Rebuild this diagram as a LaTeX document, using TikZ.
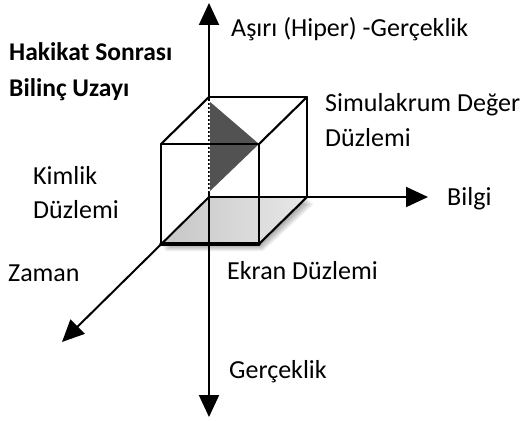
\documentclass[tikz,border=0pt]{standalone}
\usepackage{fontspec}
\setmainfont{Carlito}
\usetikzlibrary{arrows.meta,calc}
\begin{document}
\begin{tikzpicture}[x=1pt,y=-1pt,
  axis/.style={line width=2pt,-{Triangle[length=22pt,width=20pt]}},
  edge/.style={line width=2.1pt,line cap=round,line join=round},
  lbl/.style={anchor=base west,inner sep=0pt,font=\fontsize{26}{30}\selectfont},
  blbl/.style={lbl,font=\fontsize{25.5}{30}\selectfont\bfseries}]
\useasboundingbox (0,0) rectangle (529,420);
% cube corners: back face b*, front face f*
\coordinate (O)   at (209,197);
\coordinate (btl) at (209,97);
\coordinate (btr) at (307,97);
\coordinate (bbr) at (307,197);
\coordinate (ftl) at (161,144);
\coordinate (ftr) at (259,144);
\coordinate (fbl) at (161,244);
\coordinate (fbr) at (259,244);
\coordinate (top) at (209,3);
\coordinate (bot) at (209,417);
\coordinate (bilgi) at (428,197);
\coordinate (zaman) at (62,342);
\coordinate (t1) at (209,101);
\coordinate (t2) at (259,144);
\coordinate (t3) at (209,192);
% soft shadow under the floor
\foreach \k in {1,...,7}{
  \fill[black,opacity=0.06] ($(O)+(\k,\k)$) -- ($(bbr)+(\k,\k)$) -- ($(fbr)+(0.6*\k,\k)$) -- ($(fbl)+(0.6*\k,\k)$) -- cycle;
}
% shaded floor
\shade[left color=gray!45,right color=gray!18] (O) -- (bbr) -- (fbr) -- (fbl) -- cycle;
% axes
\draw[axis] (O) -- (top);
\draw[axis] (O) -- (bot);
\draw[axis] (O) -- (bilgi);
\draw[axis] (O) -- (zaman);
% triangle
\fill[black!68] (t1) -- (t2) -- (t3) -- cycle;
\draw[white,line width=1.2pt,dash pattern=on 2pt off 2pt] (t1) -- (t3);
% cube edges
\draw[edge] (ftl) rectangle (fbr);
\draw[edge] (btl) -- (btr) -- (bbr);
\draw[edge] (ftl) -- (btl);
\draw[edge] (ftr) -- (btr);
\draw[edge] (fbr) -- (bbr);
\draw[line width=3.2pt,line cap=round] (fbl) -- (fbr);
% labels
\node[lbl]  (hiper) at (231,37) {Aşırı (Hiper) -Gerçeklik};
\node[blbl] (hs)    at (9,60)  {Hakikat Sonrası};
\node[blbl] (bu)    at (9,96)  {Bilinç Uzayı};
\node[lbl]  (sim)   at (325,111) {Simulakrum Değer};
\node[lbl]  (simd)  at (325,146) {Düzlemi};
\node[lbl]  (kim)   at (33,184) {Kimlik};
\node[lbl]  (kimd)  at (33,218) {Düzlemi};
\node[lbl]  (bl)    at (447,205) {Bilgi};
\node[lbl]  (zm)    at (8,281)  {Zaman};
\node[lbl]  (ek)    at (227,279) {Ekran Düzlemi};
\node[lbl]  (gc)    at (229,378) {Gerçeklik};
\end{tikzpicture}
\end{document}
